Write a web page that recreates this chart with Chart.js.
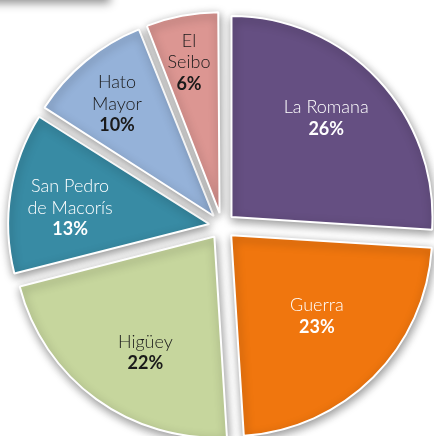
<!DOCTYPE html>
<html>
<head>
<meta charset="utf-8">
<script src="https://cdn.jsdelivr.net/npm/chart.js@4.4.1/dist/chart.umd.min.js"></script>
<style>
  body { margin: 0; background: #fff; overflow: hidden; }
  #wrap { position: relative; width: 434px; height: 436px; }
  #topbar { position: absolute; left: -20px; top: -30px; width: 130px; height: 30px; background: #fff;
            box-shadow: 0 3px 9px rgba(0,0,0,0.45); }
  canvas { position: absolute; left: 0; top: 0; }
</style>
</head>
<body>
<div id="wrap">
  <div id="topbar"></div>
  <canvas id="pastel" width="434" height="436"></canvas>
</div>
<script>
// provincias y porcentajes
const provincias = ['La Romana', 'Guerra', 'Higüey', 'San Pedro de Macorís', 'Hato Mayor', 'El Seibo'];
const lineas = [['La Romana'], ['Guerra'], ['Higüey'], ['San Pedro', 'de Macorís'], ['Hato', 'Mayor'], ['El', 'Seibo']];
const porcentajes = [26, 23, 22, 13, 10, 6];

const colores = ['#654f82', '#f0760e', '#c6d69d', '#388ba4', '#95b2d9', '#dc9692'];
const colorTexto = ['#ffffff', '#ffffff', '#1a1a1a', '#ffffff', '#1a1a1a', '#1a1a1a'];
// donde va cada etiqueta: distancia al centro y giro respecto a la mitad de la porcion
const radioTexto = [150, 131, 148, 153, 161, 167];
const giroTexto = [-2.8, -1.4, -4.8, -2.2, -1.1, -0.6];
const separacion = 52; // chart.js mueve offset/4 px

// sombra para las porciones
const sombra = {
  id: 'sombra',
  beforeDatasetDraw(chart) {
    const ctx = chart.ctx;
    ctx.save();
    ctx.shadowColor = 'rgba(0,0,0,0.42)';
    ctx.shadowBlur = 10;
    ctx.shadowOffsetX = 1;
    ctx.shadowOffsetY = 3;
  },
  afterDatasetDraw(chart) {
    chart.ctx.restore();
  }
};

// chart.js agranda las porciones chicas cuando tienen offset, se corrige aqui
const radioIgual = {
  id: 'radioIgual',
  afterDatasetUpdate(chart, args) {
    args.meta.data.forEach((arc) => {
      const fix = 1 - Math.sin(Math.min(Math.PI, arc.circumference));
      arc.outerRadius -= (separacion / 4) * fix;
    });
  }
};

const etiquetas = {
  id: 'etiquetas',
  afterDatasetsDraw(chart) {
    const ctx = chart.ctx;
    const meta = chart.getDatasetMeta(0);
    ctx.save();
    ctx.textAlign = 'center';
    ctx.textBaseline = 'middle';
    meta.data.forEach((arc, i) => {
      const mid = (arc.startAngle + arc.endAngle) / 2 + giroTexto[i] * Math.PI / 180;
      const x = arc.x + Math.cos(mid) * radioTexto[i];
      const y = arc.y + Math.sin(mid) * radioTexto[i];
      const filas = lineas[i].concat([porcentajes[i] + '%']);
      const alto = 21.5;
      let y0 = y - (filas.length - 1) * alto / 2;
      ctx.fillStyle = colorTexto[i];
      filas.forEach((t, j) => {
        const ultima = j === filas.length - 1;
        ctx.font = (ultima ? 'bold ' : '300 ') + '18px Lato, "Open Sans", sans-serif';
        ctx.fillText(t, x, y0 + j * alto);
      });
    });
    ctx.restore();
  }
};

new Chart(document.getElementById('pastel'), {
  type: 'pie',
  data: {
    labels: provincias,
    datasets: [{
      data: porcentajes,
      backgroundColor: colores,
      borderColor: '#ffffff',
      borderWidth: 2,
      offset: separacion,
      hoverOffset: 0,
      clip: false
    }]
  },
  options: {
    responsive: false,
    animation: false,
    radius: 201,
    layout: {
      padding: { left: 10, top: 16, right: 0, bottom: 0 }
    },
    plugins: {
      legend: { display: false },
      tooltip: { enabled: false }
    },
    events: []
  },
  plugins: [radioIgual, sombra, etiquetas]
});
</script>
</body>
</html>
